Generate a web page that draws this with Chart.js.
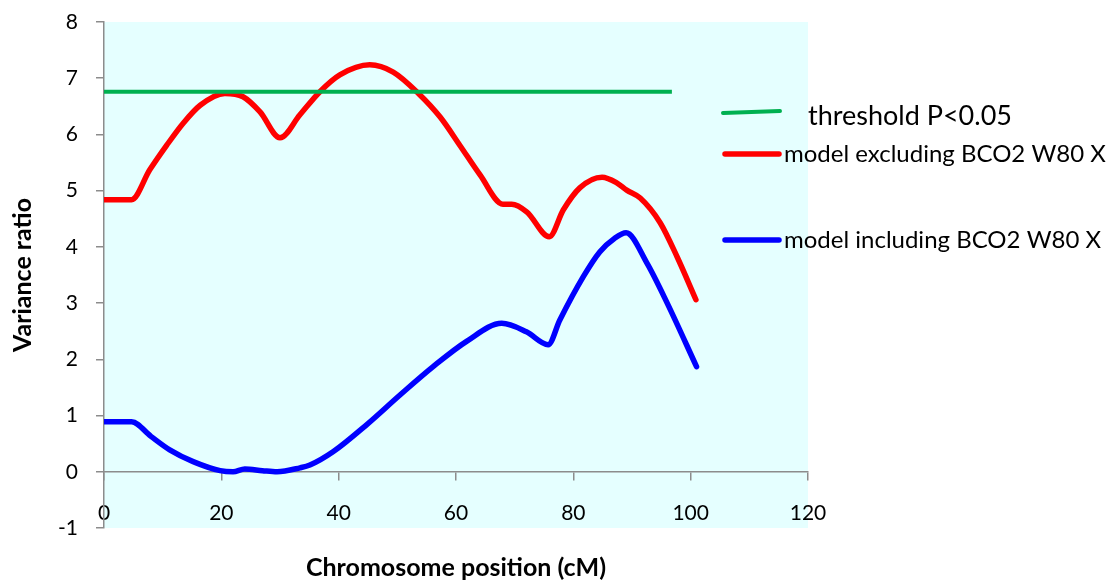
<!DOCTYPE html>
<html>
<head>
<meta charset="utf-8">
<script src="https://cdn.jsdelivr.net/npm/chart.js@4/dist/chart.umd.min.js"></script>
<style>
    html, body { margin: 0; padding: 0; background: #ffffff; }
    canvas { display: block; }
</style>
</head>
<body>
<canvas id="chart-variance" width="1113" height="583"></canvas>
<script>

const FONT = 'Lato, "Open Sans", sans-serif'

// threshold P<0.05
const thresholdX = [0, 96.8]
const thresholdY = [6.76, 6.76]

// model excluding BCO2 W80 X
const excludingX = [0, 4.7, 7.8, 10.7, 13.5, 16.4, 20.6, 23.7, 26.6, 30, 33.4, 36.8, 40.2, 45.3, 49.3, 53.6, 57.3, 60.7, 64.1, 68, 69.5, 72.1, 75.9, 78.3, 81.1, 84.9, 87.4, 89.1, 91.4, 94.8, 97.7, 100.9]
const excludingY = [4.84, 4.84, 5.37, 5.81, 6.2, 6.52, 6.73, 6.67, 6.4, 5.94, 6.35, 6.76, 7.06, 7.24, 7.11, 6.73, 6.31, 5.8, 5.28, 4.76, 4.76, 4.62, 4.18, 4.66, 5.05, 5.24, 5.14, 5.01, 4.87, 4.43, 3.82, 3.06]

// model including BCO2 W80 X
const includingX = [0, 4.7, 8, 11.2, 15.2, 19.8, 22, 24, 27, 29.5, 33.4, 35.1, 39.1, 44.8, 50.5, 56.1, 61.8, 67.8, 72, 75.7, 77.7, 81.7, 84.5, 87, 89, 92.5, 96, 101]
const includingY = [0.89, 0.89, 0.63, 0.39, 0.18, 0.02, 0, 0.05, 0.02, 0, 0.07, 0.12, 0.36, 0.84, 1.37, 1.87, 2.32, 2.64, 2.49, 2.26, 2.7, 3.47, 3.91, 4.15, 4.25, 3.72, 3, 1.87]

const seriesNames = ['threshold P<0.05', 'model excluding BCO2 W80 X', 'model including BCO2 W80 X']
const seriesColors = ['#00B050', '#FF0000', '#0000FF']

const xTicks = [0, 120, 20]   // min, max, step
const yTicks = [-1, 8, 1]

const toPoints = (xs, ys) => xs.map((x, i) => ({ x: x, y: ys[i] }))

const plotBackground = {
    id: 'plotBackground',
    beforeDraw(chart) {
        const { ctx, chartArea } = chart
        ctx.save()
        ctx.fillStyle = '#E5FFFF'
        ctx.fillRect(chartArea.left, chartArea.top, chartArea.right - chartArea.left, chartArea.bottom - chartArea.top)
        ctx.restore()
    }
}

// hand placed legend, like the original sheet
const sideLegend = {
    id: 'sideLegend',
    afterDraw(chart) {
        const ctx = chart.ctx
        const rows = [
            { line: [723, 113, 780, 111], width: 4, textX: 808, textY: 116, size: 27 },
            { line: [725, 154, 779, 154], width: 5.5, textX: 784, textY: 154, size: 24 },
            { line: [725, 240, 779, 240], width: 5.5, textX: 784, textY: 240, size: 24 }
        ]
        ctx.save()
        rows.forEach((row, i) => {
            ctx.strokeStyle = seriesColors[i]
            ctx.lineWidth = row.width
            ctx.lineCap = 'round'
            ctx.beginPath()
            ctx.moveTo(row.line[0], row.line[1])
            ctx.lineTo(row.line[2], row.line[3])
            ctx.stroke()
            ctx.fillStyle = '#000000'
            ctx.font = row.size + 'px ' + FONT
            ctx.textAlign = 'left'
            ctx.textBaseline = 'middle'
            ctx.fillText(seriesNames[i], row.textX, row.textY)
        })
        ctx.restore()
    }
}

const chartVariance = document.getElementById('chart-variance')
const chartContext = chartVariance.getContext('2d')

const lineStyle = {
    pointRadius: 0,
    fill: false,
    cubicInterpolationMode: 'monotone',
    borderCapStyle: 'round',
    borderJoinStyle: 'round'
}

new Chart(chartContext, {

    type: 'line',
    data: {
        datasets: [{
            label: seriesNames[0],
            data: toPoints(thresholdX, thresholdY),
            borderColor: seriesColors[0],
            borderWidth: 4,
            ...lineStyle,
            borderCapStyle: 'butt',
            order: 0
        }, {
            label: seriesNames[1],
            data: toPoints(excludingX, excludingY),
            borderColor: seriesColors[1],
            borderWidth: 5.5,
            ...lineStyle,
            order: 1
        }, {
            label: seriesNames[2],
            data: toPoints(includingX, includingY),
            borderColor: seriesColors[2],
            borderWidth: 5.5,
            ...lineStyle,
            order: 2
        }]
    },
    options: {
        responsive: false,
        animation: false,
        layout: {
            padding: { top: 22, right: 305, left: 0, bottom: 0 }
        },
        plugins: {
            legend: { display: false },
            tooltip: { enabled: false },
            title: {
                display: true,
                position: 'bottom',
                fullSize: false,
                text: 'Chromosome position (cM)',
                color: '#000000',
                font: { family: FONT, size: 25, weight: 'bold' },
                padding: { top: 25, bottom: 0 }
            }
        },
        scales: {
            x: {
                type: 'linear',
                position: { y: 0 },
                min: xTicks[0],
                max: xTicks[1],
                ticks: {
                    stepSize: xTicks[2],
                    color: '#000000',
                    font: { family: FONT, size: 21 },
                    padding: 21,
                    maxRotation: 0
                },
                grid: { drawOnChartArea: false, tickLength: 8, color: '#8C8C8C', lineWidth: 1.5 },
                border: { color: '#8C8C8C', width: 1.5 }
            },
            y: {
                type: 'linear',
                position: 'left',
                min: yTicks[0],
                max: yTicks[1],
                afterFit: (scale) => {
                    scale.width = 104
                    scale.paddingTop = 10
                },
                ticks: {
                    stepSize: yTicks[2],
                    color: '#000000',
                    font: { family: FONT, size: 21 },
                    padding: 18
                },
                grid: { drawOnChartArea: false, tickLength: 8, color: '#8C8C8C', lineWidth: 1.5 },
                border: { color: '#8C8C8C', width: 1.5 },
                title: {
                    display: true,
                    text: 'Variance ratio',
                    color: '#000000',
                    font: { family: FONT, size: 25, weight: 'bold' },
                    padding: { top: 8 }
                }
            }
        }
    },
    plugins: [plotBackground, sideLegend]

})

</script>
</body>
</html>
